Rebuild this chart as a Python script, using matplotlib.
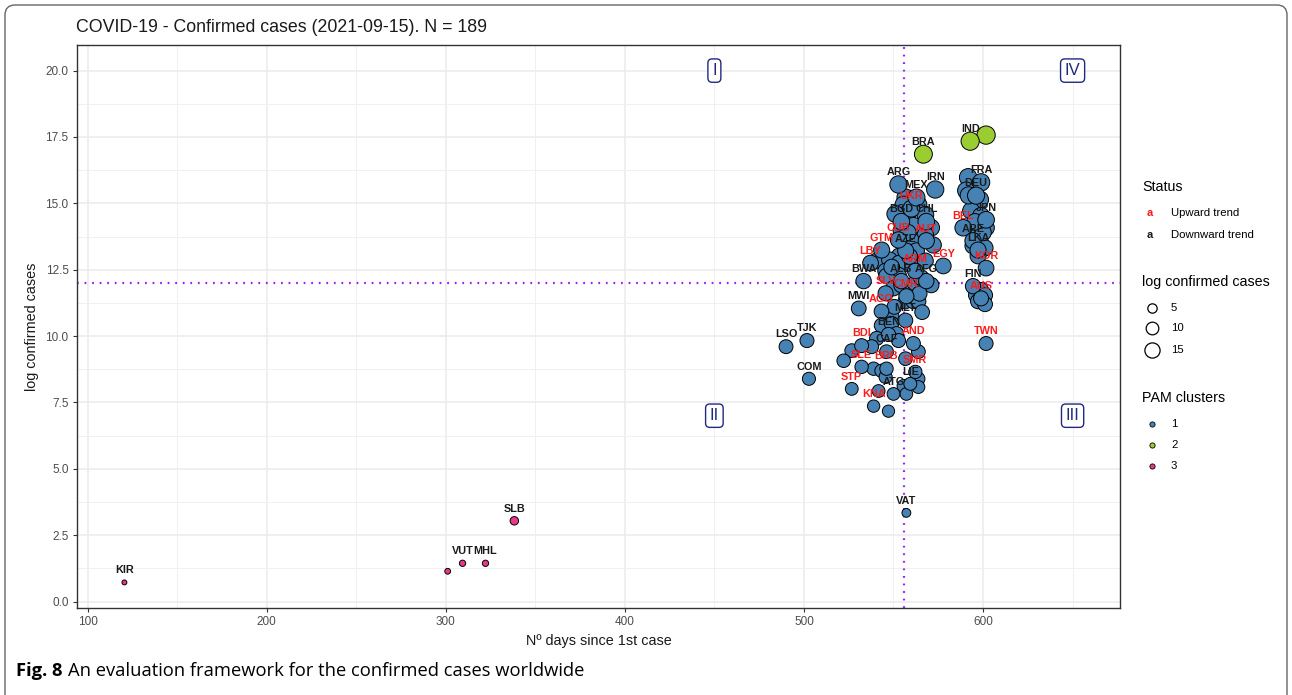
import numpy as np
import matplotlib
matplotlib.use("Agg")
import matplotlib.pyplot as plt
from matplotlib.patches import FancyBboxPatch

# ---- data ----
codes = ['KIR', 'VUT', 'MHL', 'SLB', 'VAT', 'LSO', 'TJK', 'COM', 'STP', 'KNA',
         'ATG', 'LIE', 'SMR', 'SLE', 'BRB', 'BDI', 'CAF', 'AND', 'BEN', 'MLT',
         'AGO', 'MWI', 'SLV', 'CMR', 'BWA', 'ALB', 'AFG', 'ARM', 'EGY', 'LBY',
         'GTM', 'AZE', 'CUB', 'AUT', 'BGD', 'CHL', 'UKR', 'MEX', 'ARG', 'IRN',
         'BRA', 'IND', 'FRA', 'DEU', 'JPN', 'BEL', 'ARE', 'LKA', 'KOR', 'FIN',
         'AUS', 'TWN']
days = [120.6, 309.4, 322.2, 338.3, 557.2, 490.0, 501.7, 502.8, 526.7, 538.9,
        550.0, 559.4, 562.2, 532.2, 546.1, 532.2, 546.1, 561.1, 547.2, 556.7,
        543.3, 530.6, 545.6, 557.2, 533.3, 554.4, 568.3, 562.2, 577.8, 537.2,
        543.4, 556.8, 552.8, 568.3, 554.4, 568.3, 560.0, 562.8, 552.8, 573.3,
        566.7, 592.8, 598.9, 596.1, 601.7, 588.9, 594.4, 597.2, 601.7, 594.4,
        598.9, 601.7]
log_cases = [0.72, 1.44, 1.44, 3.04, 3.34, 9.60, 9.83, 8.39, 8.01, 7.36,
             7.82, 8.20, 8.65, 8.84, 8.77, 9.64, 9.41, 9.72, 10.06, 10.59,
             10.93, 11.04, 11.61, 11.50, 12.07, 12.07, 12.07, 12.45, 12.64, 12.75,
             13.24, 13.21, 13.62, 13.59, 14.31, 14.31, 14.80, 15.22, 15.71, 15.52,
             16.85, 17.34, 15.79, 15.29, 14.38, 14.08, 13.59, 13.24, 12.56, 11.88,
             11.42, 9.72]
upward = {'STP', 'KNA', 'SMR', 'SLE', 'BRB', 'BDI', 'AND', 'AGO', 'SLV', 'CMR',
          'ARM', 'EGY', 'LBY', 'GTM', 'CUB', 'AUT', 'UKR', 'BEL', 'KOR', 'AUS', 'TWN'}
cluster_of = {'KIR': 3, 'VUT': 3, 'MHL': 3, 'SLB': 3, 'BRA': 2, 'IND': 2}

# countries whose labels were dropped by the label repeller
other_days = [601.7, 301.1,
              591.7, 590.6, 598.3, 593.3, 598.9, 601.7, 597.2, 594.4, 601.1, 597.2,
              598.9, 596.1, 601.1, 597.2, 601.1, 592.0, 600.0, 595.5,
              556.7, 555.6, 563.9, 558.3, 567.8, 561.1, 571.1, 554.4, 567.8, 560.0,
              572.2, 553.3, 562.8, 540.6, 547.8, 553.3, 560.6, 567.8, 545.6, 552.8,
              546.1, 550.0, 554.4, 562.2, 571.1, 556.7, 561.1, 563.9, 548.9, 543.3,
              548.9, 551.7, 540.6, 552.8, 563.9, 537.8, 526.7, 522.2, 538.9, 543.3,
              545.6, 556.7, 563.9, 563.9, 555.6, 541.7, 557.2, 547.2, 550.5, 566.0,
              549.0, 558.0, 565.5, 559.0, 551.0, 564.5]
other_log = [17.57, 1.14,
             15.98, 15.48, 15.14, 14.72, 14.53, 14.08, 13.78, 13.40, 13.32, 13.02,
             11.73, 11.54, 11.54, 11.31, 11.20, 15.30, 13.90, 14.30,
             15.22, 14.95, 14.95, 14.65, 14.57, 14.16, 14.08, 13.97, 13.81, 13.59,
             13.43, 13.02, 13.21, 12.83, 12.87, 12.75, 12.68, 12.83, 12.45, 12.30,
             12.26, 11.80, 11.92, 11.99, 11.92, 11.31, 11.31, 11.31, 10.78, 10.40,
             10.47, 10.09, 9.91, 9.83, 9.41, 9.60, 9.45, 9.07, 8.77, 8.69,
             8.46, 9.15, 8.39, 8.08, 8.12, 7.93, 7.82, 7.17, 11.10, 10.90,
             12.60, 13.90, 12.20, 13.00, 14.60, 11.60]
other_cluster = [2, 3] + [1] * (len(other_days) - 2)

cluster_colors = {1: '#4682B4', 2: '#9ACD32', 3: '#E8388A'}
q_labels = ['I', 'II', 'III', 'IV']
q_pos = [(450, 20.0), (450, 7.0), (650, 7.0), (650, 20.0)]
v_line, h_line = 556, 12.0


def dot_size(v):
    d_px = 1.5 + 4.0 * np.sqrt(np.asarray(v, dtype=float))
    return (d_px * 0.72) ** 2


W, H = 1292, 695
fig = plt.figure(figsize=(W / 100, H / 100), dpi=100)
plt.rcParams['font.family'] = ['Liberation Sans', 'DejaVu Sans']

ax = fig.add_axes([77 / W, 1 - 608 / H, (1120 - 77) / W, (608 - 45) / H])

x_min, x_max = 120.6, 650.0
y_min, y_max = 0.72, 20.0
ax.set_xlim(x_min - 0.05 * (x_max - x_min), x_max + 0.05 * (x_max - x_min))
ax.set_ylim(y_min - 0.05 * (y_max - y_min), y_max + 0.05 * (y_max - y_min))

ax.set_xticks([100, 200, 300, 400, 500, 600])
ax.set_xticks(np.arange(150, 700, 100), minor=True)
ax.set_yticks(np.arange(0, 20.1, 2.5))
ax.set_yticklabels([f'{v:.1f}' for v in np.arange(0, 20.1, 2.5)])
ax.set_yticks(np.arange(1.25, 20, 2.5), minor=True)
ax.grid(which='major', color='#EBEBEB', lw=1.1, zorder=0)
ax.grid(which='minor', color='#F0F0F0', lw=0.7, zorder=0)
ax.tick_params(which='minor', length=0)
ax.tick_params(which='major', length=3, color='#333333', labelsize=8.5, labelcolor='#4D4D4D', pad=3)
ax.set_axisbelow(True)
for s in ax.spines.values():
    s.set_color('#333333')
    s.set_linewidth(1.0)

ax.axvline(v_line, color='#A020F0', lw=1.6, ls=(0, (0.8, 2.6)), zorder=1)
ax.axhline(h_line, color='#A020F0', lw=1.6, ls=(0, (0.8, 2.6)), zorder=1)

# points
ax.scatter(other_days, other_log, s=dot_size(other_log),
           c=[cluster_colors[c] for c in other_cluster],
           edgecolors='black', linewidths=0.7, zorder=3)
clusters = [cluster_of.get(c, 1) for c in codes]
ax.scatter(days, log_cases, s=dot_size(log_cases),
           c=[cluster_colors[c] for c in clusters],
           edgecolors='black', linewidths=0.7, zorder=3)

for code, x, y in zip(codes, days, log_cases):
    ax.annotate(code, (x, y), xytext=(0, 8.8), textcoords='offset points',
                ha='center', va='center', fontsize=7.8, fontweight='bold',
                color='#FF1A1A' if code in upward else '#1A1A1A', zorder=4)

for lab, (qx, qy) in zip(q_labels, q_pos):
    ax.text(qx, qy, lab, ha='center', va='center', fontsize=12, color='#1F2A80',
            bbox=dict(boxstyle='round,pad=0.25,rounding_size=0.25', fc='white',
                      ec='#1F2A80', lw=1.0), zorder=5)

ax.set_xlabel('Nº days since 1st case', fontsize=10.4, color='#1A1A1A', labelpad=4)
ax.set_ylabel('log confirmed cases', fontsize=10.4, color='#1A1A1A', labelpad=5)

# overlay in pixel units for title, legends, caption and frame
lax = fig.add_axes([0, 0, 1, 1])
lax.set_xlim(0, W)
lax.set_ylim(H, 0)
lax.axis('off')

lax.text(76, 28, 'COVID-19 - Confirmed cases (2021-09-15). N = 189',
         fontsize=12.8, color='#1A1A1A', va='center')

frame = FancyBboxPatch((5, 5), W - 10, H + 20, boxstyle='round,pad=0,rounding_size=10',
                       fc='none', ec='#666666', lw=1.0)
lax.add_patch(frame)

# legend: status
lax.text(1142, 187, 'Status', fontsize=10.3, va='center')
lax.text(1150, 213, 'a', fontsize=8, fontweight='bold', color='#FF1A1A', ha='center', va='center')
lax.text(1171, 213, 'Upward trend', fontsize=8.2, va='center')
lax.text(1150, 235, 'a', fontsize=8, fontweight='bold', color='#1A1A1A', ha='center', va='center')
lax.text(1171, 235, 'Downward trend', fontsize=8.2, va='center')

# legend: size
size_breaks = [5, 10, 15]
lax.text(1142, 282, 'log confirmed cases', fontsize=10.3, va='center')
for v, yy in zip(size_breaks, [308, 328, 350]):
    lax.scatter([1152], [yy], s=dot_size(v) * 0.8, fc='white', ec='black', lw=0.9)
    lax.text(1171, yy, str(v), fontsize=8.2, va='center')

# legend: clusters
lax.text(1142, 398, 'PAM clusters', fontsize=10.3, va='center')
for k, yy in zip([1, 2, 3], [424, 445, 466]):
    lax.scatter([1152], [yy], s=14, fc=cluster_colors[k], ec='black', lw=0.6)
    lax.text(1171, yy, str(k), fontsize=8.2, va='center')

# caption
t1 = lax.text(16, 671, 'Fig. 8', fontsize=13.2, fontweight='bold', va='center',
              family=['Open Sans', 'DejaVu Sans'])
fig.canvas.draw()
bb = t1.get_window_extent()
x_next = lax.transData.inverted().transform((bb.x1, 0))[0] + 5
lax.text(x_next, 671, 'An evaluation framework for the confirmed cases worldwide',
         fontsize=13.2, va='center', family=['Open Sans', 'DejaVu Sans'])
fig.savefig('out.png', dpi=100)
